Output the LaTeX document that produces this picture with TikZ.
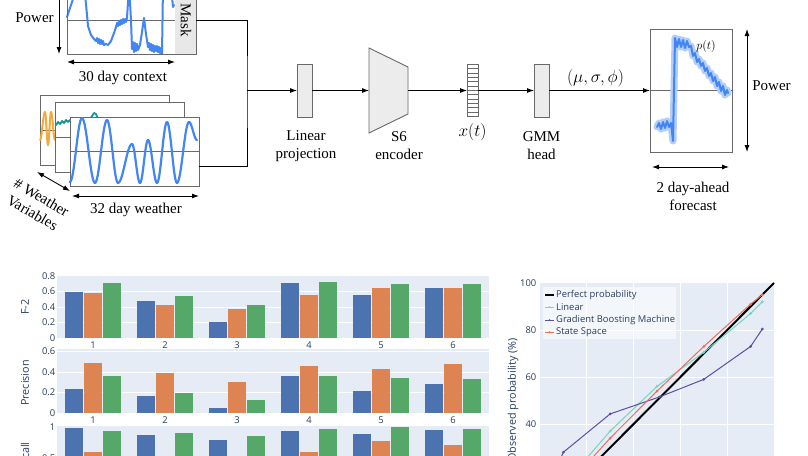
\documentclass[tikz,border=0pt]{standalone}
\usepackage{fontspec}
\setmainfont{Liberation Serif}
\newfontfamily\plotfont{Open Sans}
\usetikzlibrary{arrows.meta, calc}
\definecolor{boxfill}{RGB}{236,236,236}
\definecolor{maskfill}{RGB}{232,232,232}
\definecolor{edgegray}{RGB}{105,105,105}
\definecolor{sigblue}{RGB}{66,133,244}
\definecolor{sigglow}{RGB}{180,206,249}
\definecolor{sigorange}{RGB}{246,168,60}
\definecolor{sigteal}{RGB}{24,150,150}
\definecolor{plotbg}{RGB}{229,236,246}
\definecolor{plottext}{RGB}{42,63,95}
\definecolor{barblue}{RGB}{76,114,176}
\definecolor{barorange}{RGB}{221,132,82}
\definecolor{bargreen}{RGB}{85,168,104}
\definecolor{linteal}{RGB}{118,212,192}
\definecolor{gbmpurple}{RGB}{94,78,162}
\definecolor{sspred}{RGB}{239,110,90}
\tikzset{
  plotbox/.style={rectangle, draw=edgegray, fill=white, line width=0.9pt,
                  inner sep=0pt, outer sep=0pt, minimum width=#1},
  plotbox/.default=129pt,
  layerbox/.style={rectangle, draw=edgegray, fill=boxfill, line width=0.9pt,
                   inner sep=0pt, outer sep=0pt, minimum width=15pt, minimum height=53pt},
  arrow/.style={-{Latex[length=7pt,width=5pt]}, line width=0.9pt},
  darrow/.style={{Latex[length=7pt,width=5pt]}-{Latex[length=7pt,width=5pt]}, line width=0.9pt},
  lbl/.style={font=\fontsize{15}{18}\selectfont, align=center, inner sep=0pt},
  midline/.style={edgegray, line width=0.8pt},
  signal/.style={sigblue, line width=2.2pt, line join=round, line cap=round},
  ticklbl/.style={font=\plotfont\fontsize{9.4}{11}\selectfont, text=plottext, inner sep=0pt},
  axtitle/.style={font=\plotfont\fontsize{10.8}{13}\selectfont, text=plottext, inner sep=0pt},
  gridline/.style={white, line width=0.8pt},
}
\newcommand{\halfwave}[5]{\draw[signal, #5] plot[domain=0:180, samples=14, variable=\ang]
  ({#1+(#3-#1)*\ang/180},{(#2+#4)/2-(#4-#2)/2*cos(\ang)});}

\begin{document}
\begin{tikzpicture}[x=1pt, y=-1pt]
  \useasboundingbox (0,0) rectangle (808,455);
  \fill[white] (0,0) rectangle (808,455);
  \clip (0,0) rectangle (808,455);

  % 30 day power context
  \node[plotbox, minimum height=68pt] (ctx) at (131.5,20) {};
  \fill[maskfill] (175,-14) rectangle (ctx.south east);
  \node[lbl, rotate=-90] at (186,20) {Mask};
  \draw[midline] (ctx.west) -- (175,20);
  \draw[signal, line width=2pt] plot coordinates {(67,17) (70,8) (73,-1) (76,-14) (84,-14) (86,4) (88,26)
    (91,35) (94,39) (96,41) (97,38) (98,43) (99,39) (100,44) (101,40) (102,44) (103,41) (104,45)
    (106,44) (108,45) (111,41) (114,33) (116,27) (117,23) (118,26) (119,21) (120,25) (121,20)
    (122,24) (123,19) (124,23) (125,19) (126,22) (127,18) (129,-14) (131,20) (132,49) (133,42)
    (134,52) (135,43) (136,51) (137,44) (138,50) (140,45) (142,32) (144,18) (146,34) (148,47)
    (149,43) (150,50) (151,44) (152,51) (153,45) (154,52) (155,46) (156,51) (157,46) (158,52)
    (159,47) (160,53) (161,48) (162,54) (163,-14) (171,-14) (173,7) (174,5)};
  \draw[edgegray, line width=0.9pt] (ctx.south west) rectangle (ctx.north east);
  \draw[darrow] ([xshift=-8pt]ctx.north west) -- ([xshift=-8pt]ctx.south west);
  \node[lbl] (powleft) at (34.5,18) {Power};
  \draw[darrow] ([yshift=-8pt]ctx.south west) -- ([yshift=-8pt]175,54);
  \node[lbl] (ctxlbl) at (123,78) {30 day context};

  % weather variables, stacked
  \node[plotbox, minimum height=70pt] (wback) at (105,130) {};
  \draw[midline] (wback.west) -- (wback.east);
  \foreach \xa/\ya/\xb/\yb in {40/140/45/112, 45/112/48/145, 48/145/51/112, 51/112/55/140}
    {\halfwave{\xa}{\ya}{\xb}{\yb}{sigorange, line width=2pt}}
  \node[plotbox, minimum height=70pt] (wmid) at (119.5,137) {};
  \draw[midline] (wmid.west) -- (wmid.east);
  \draw[signal, sigteal, line width=1.8pt] plot coordinates {(56,125) (58,122) (60,124) (62,121)
    (64,123) (66,120) (68,122) (70,120) (74,121) (78,119) (82,120) (86,118) (90,119) (92,116)
    (94,113) (96,114) (98,119)};
  \node[plotbox, minimum height=69pt] (wfront) at (134.5,151.5) {};
  \draw[midline] (wfront.west) -- (wfront.east);
  \foreach \xa/\ya/\xb/\yb in {70/182/82/118, 82/118/95/183, 95/183/107/120, 107/120/118/183,
      118/183/132/144, 132/144/140/183, 140/183/148/140, 148/140/157/183, 157/183/167/122,
      167/122/177/183, 177/183/189/122, 189/122/197/140}
    {\halfwave{\xa}{\ya}{\xb}{\yb}{sigblue}}
  \coordinate (nvarA) at (37,172);
  \coordinate (nvarB) at (70,191);
  \draw[darrow] (nvarA) -- (nvarB);
  \node[lbl, rotate=-30] (nvarlbl) at (37,205) {\# Weather\\Variables};
  \draw[darrow] ([yshift=-10pt,xshift=2pt]wfront.south west) -- ([yshift=-10pt]wfront.south east);
  \node[lbl] (wlbl) at (136,210) {32 day weather};

  % merge into the model
  \coordinate (join) at (247,90.5);
  \draw[line width=0.9pt] (ctx.east) -| (join) |- ([yshift=-15pt]wfront.east);

  % model pipeline
  \node[layerbox] (linproj) at (304.5,90.5) {};
  \draw[arrow] (join) -- (linproj);
  \node[lbl] at (306,146) {Linear\\projection};
  \draw[draw=edgegray, fill=boxfill, line width=0.9pt]
    (369,48) -- (408,67) -- (408,114) -- (369,133) -- cycle;
  \coordinate (encin) at (369,90.5);
  \coordinate (encout) at (408,90.5);
  \draw[arrow] (linproj) -- (encin);
  \node[lbl] at (399,146) {S6\\encoder};
  \node[layerbox, fill=white, minimum width=11pt, minimum height=52pt] (xvec) at (472.5,90.5) {};
  \foreach \k in {1,...,11}
    \draw[edgegray, line width=0.7pt] ([yshift=-\k*4.33pt]xvec.north west) -- ([yshift=-\k*4.33pt]xvec.north east);
  \draw[arrow] (encout) -- (xvec);
  \node[font=\fontsize{17.5}{20}\selectfont, inner sep=0pt] (xlbl) at (472.5,132) {$x(t)$};
  \node[layerbox] (gmm) at (541.5,90.5) {};
  \draw[arrow] (xvec) -- (gmm);
  \node[lbl] at (541.5,146) {GMM\\head};

  % forecast
  \node[plotbox, minimum width=82pt, minimum height=123pt] (fcst) at (691,90.5) {};
  \draw[midline] (fcst.west) -- (fcst.east);
  \draw[arrow] (gmm) -- (fcst) node[pos=0.46, above=3pt, inner sep=0pt,
       font=\fontsize{17}{20}\selectfont] {$(\mu,\sigma,\phi)$};
  \foreach \lw/\col in {7pt/sigglow, 2pt/sigblue}
    \draw[\col, line width=\lw, line join=round, line cap=round] plot coordinates {(657,127) (659,123)
      (661,129) (663,122) (665,128) (667,121) (669,127) (671,123) (673,141) (675,38) (677,47)
      (679,39) (681,47) (683,40) (685,48) (687,41) (689,47) (691,46) (693,56) (695,53) (697,62)
      (699,59) (701,66) (703,63) (705,71) (707,68) (709,76) (711,73) (713,81) (715,77) (717,86)
      (719,82) (721,91) (723,86) (725,95) (727,90) (728,93)};
  \node[font=\fontsize{13}{15}\selectfont, inner sep=0pt] (plbl) at (706,46) {$p(t)$};
  \draw[darrow] ([xshift=15pt]fcst.north east) -- ([xshift=15pt]fcst.south east);
  \node[lbl] (powright) at (771.5,86) {Power};
  \draw[darrow] ([yshift=-15pt,xshift=2pt]fcst.south west) -- ([yshift=-15pt,xshift=-3pt]fcst.south east);
  \node[lbl] (fclbl) at (693,196) {2 day-ahead\\forecast};

  % bar charts: F-2, Precision, Recall
  \begin{scope}[yshift=-338pt, y=77.5pt]
    \fill[plotbg] (57,0) rectangle (489,0.8);
    \foreach \v in {0.2,0.4,0.6} \draw[gridline] (57,\v) -- (489,\v);
    \foreach \v in {0,0.2,0.4,0.6,0.8} \node[ticklbl, anchor=east] at (55.5,\v) {\v};
    \foreach \i/\a/\b/\c in {1/0.59/0.58/0.71, 2/0.48/0.43/0.54, 3/0.21/0.37/0.42,
        4/0.71/0.55/0.72, 5/0.55/0.65/0.70, 6/0.64/0.64/0.70} {
      \fill[barblue] (21+72*\i-28.3,0) rectangle ++(18.6,\a);
      \fill[barorange] (21+72*\i-9.3,0) rectangle ++(18.6,\b);
      \fill[bargreen] (21+72*\i+9.7,0) rectangle ++(18.6,\c);
      \node[ticklbl, anchor=north, yshift=-3.5pt] at (21+72*\i,0) {\i};
    }
  \end{scope}
  \node[axtitle, rotate=90] (f2lbl) at (25,307) {F-2};

  \begin{scope}[yshift=-413pt, y=102.5pt]
    \fill[plotbg] (57,0) rectangle (489,0.625);
    \foreach \v in {0.2,0.4,0.6} \draw[gridline] (57,\v) -- (489,\v);
    \foreach \v in {0,0.2,0.4,0.6} \node[ticklbl, anchor=east] at (55.5,\v) {\v};
    \foreach \i/\a/\b/\c in {1/0.23/0.49/0.36, 2/0.17/0.39/0.20, 3/0.05/0.30/0.13,
        4/0.36/0.46/0.36, 5/0.21/0.43/0.34, 6/0.28/0.48/0.33} {
      \fill[barblue] (21+72*\i-28.3,0) rectangle ++(18.6,\a);
      \fill[barorange] (21+72*\i-9.3,0) rectangle ++(18.6,\b);
      \fill[bargreen] (21+72*\i+9.7,0) rectangle ++(18.6,\c);
      \node[ticklbl, anchor=north, yshift=-3.5pt] at (21+72*\i,0) {\i};
    }
  \end{scope}
  \node[axtitle, rotate=90] (preclbl) at (25,383) {Precision};

  \begin{scope}[yshift=-490pt, y=63pt]
    \fill[plotbg] (57,0) rectangle (489,1.02);
    \draw[gridline] (57,0.5) -- (489,0.5);
    \foreach \v in {0,0.5,1} \node[ticklbl, anchor=east] at (55.5,\v) {\v};
    \foreach \i/\a/\b/\c in {1/0.98/0.61/0.94, 2/0.88/0.40/0.90, 3/0.80/0.40/0.86,
        4/0.94/0.61/0.97, 5/0.89/0.77/1.0, 6/0.95/0.71/0.97} {
      \fill[barblue] (21+72*\i-28.3,0) rectangle ++(18.6,\a);
      \fill[barorange] (21+72*\i-9.3,0) rectangle ++(18.6,\b);
      \fill[bargreen] (21+72*\i+9.7,0) rectangle ++(18.6,\c);
    }
  \end{scope}
  \node[axtitle, rotate=90] (reclbl) at (25,457) {Recall};

  % calibration plot
  \begin{scope}[xshift=540pt, yshift=-518pt, x=2.34pt, y=2.35pt]
    \fill[plotbg] (0,0) rectangle (100,100);
    \foreach \v in {20,40,60,80} {
      \draw[gridline] (\v,0) -- (\v,100);
      \draw[gridline] (0,\v) -- (100,\v);
    }
    \foreach \v in {20,40,60,80,100} \node[ticklbl, anchor=east] at (-1.5,\v) {\v};
    \draw[black, line width=2pt] (0,0) -- (100,100);
    \draw[linteal, line width=1pt] plot[mark=*, mark size=0.8pt] coordinates
      {(10,14) (30,37) (50,56) (70,70.5) (90,87) (95,92)};
    \draw[gbmpurple, line width=1pt] plot[mark=*, mark size=0.8pt] coordinates
      {(5,17) (10,28) (30,44.3) (51,51.5) (70,59) (90,73) (95,80.4)};
    \draw[sspred, line width=1pt] plot[mark=*, mark size=0.8pt] coordinates
      {(10,12) (30,34) (50,54) (70,73) (90,91) (95,95)};
  \end{scope}
  \node[axtitle, rotate=90] (obslbl) at (513,400) {Observed probability (\%)};

  % legend
  \fill[white, opacity=0.55] (543,287) rectangle (676,339);
  \foreach \y/\col/\w/\t in {295/black/2pt/Perfect probability, 307/linteal/1pt/Linear,
      320/gbmpurple/1pt/Gradient Boosting Machine, 332/sspred/1pt/State Space} {
    \draw[\col, line width=\w] (545,\y) -- (554,\y);
    \fill[\col] (549.5,\y) circle (0.9pt);
    \node[ticklbl, anchor=west] at (556,\y) {\t};
  }
\end{tikzpicture}
\end{document}
